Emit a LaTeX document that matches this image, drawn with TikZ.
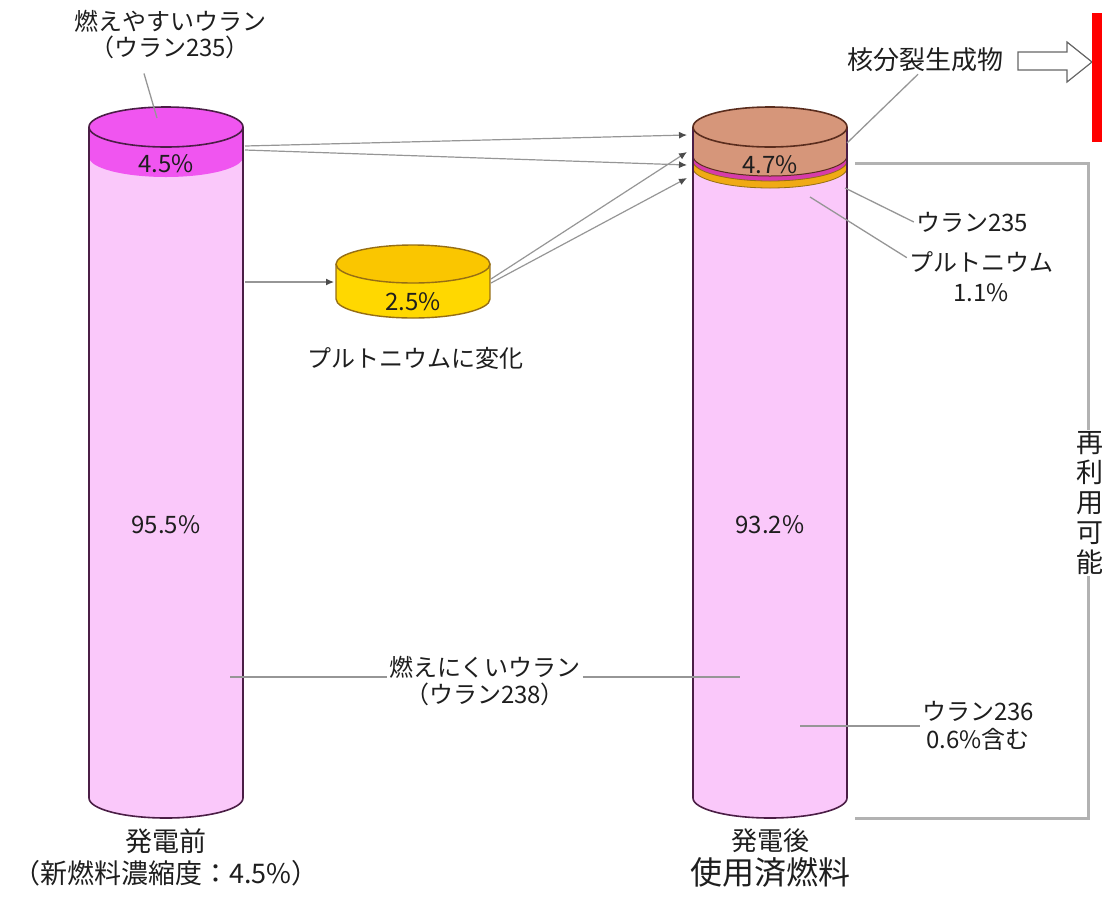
\documentclass[tikz,border=0pt]{standalone}
\usepackage{fontspec}
\setmainfont{Noto Sans CJK JP}
\usepackage{xcolor}
\usepackage{tikz}
\usetikzlibrary{arrows.meta}
\definecolor{uranpink}{RGB}{250,200,250}
\definecolor{uranmag}{RGB}{240,85,240}
\definecolor{rimdark}{RGB}{75,30,70}
\definecolor{fisbrown}{RGB}{214,150,122}
\definecolor{fisrim}{RGB}{90,45,30}
\definecolor{plyellow}{RGB}{255,216,0}
\definecolor{pltop}{RGB}{250,198,0}
\definecolor{plrim}{RGB}{150,110,20}
\definecolor{plorange}{RGB}{240,170,20}
\definecolor{bandmag}{RGB}{215,60,170}
\definecolor{leadgray}{RGB}{150,150,150}
\definecolor{txtdark}{RGB}{30,30,30}

\begin{document}
\begin{tikzpicture}[x=1pt, y=-1pt, font=\fontsize{24}{28}\selectfont, text=txtdark,
  lbl/.style={align=center, inner sep=2pt},
  pct/.style={inner sep=0pt},
  lead/.style={draw=leadgray, line width=1.3pt},
  arr/.style={draw=leadgray, line width=1.2pt, -{Latex[length=8pt,width=7pt,color=black!70]}},
  rim/.style={draw=rimdark, line width=1.6pt}]
  \useasboundingbox (0,0) rectangle (1102,903);
  \clip (0,0) rectangle (1102,903);

  % fuel before burning
  \fill[uranpink] (89,127) rectangle (243,798);
  \fill[uranpink] (166,798) ellipse (77 and 20);
  \fill[uranmag] (89,127) -- (89,157) arc (180:0:77 and 20) -- (243,127) -- cycle;
  \draw[rim] (89,127) -- (89,798) arc (180:0:77 and 20) -- (243,127);
  \draw[rim, fill=uranmag] (166,127) ellipse (77 and 20);

  % spent fuel
  \fill[uranpink] (693,127) rectangle (847,798);
  \fill[uranpink] (770,798) ellipse (77 and 20);
  \fill[plorange] (693,127) -- (693,168) arc (180:0:77 and 20) -- (847,127) -- cycle;
  \fill[bandmag] (693,127) -- (693,161) arc (180:0:77 and 20) -- (847,127) -- cycle;
  \fill[fisbrown] (693,127) -- (693,156) arc (180:0:77 and 20) -- (847,127) -- cycle;
  \draw[draw=fisrim, line width=1pt] (693,156) arc (180:0:77 and 20);
  \draw[draw=plrim, line width=0.8pt] (693,161) arc (180:0:77 and 20);
  \draw[draw=plrim, line width=0.8pt] (693,168) arc (180:0:77 and 20);
  \draw[rim] (693,127) -- (693,798) arc (180:0:77 and 20) -- (847,127);
  \draw[draw=fisrim, line width=1.6pt, fill=fisbrown] (770,127) ellipse (77 and 20);

  % plutonium disc
  \fill[plyellow] (336,264) rectangle (490,299);
  \fill[plyellow] (413,299) ellipse (77 and 19);
  \draw[draw=plrim, line width=1.4pt] (336,264) -- (336,299) arc (180:0:77 and 19) -- (490,264);
  \draw[draw=plrim, line width=1.4pt, fill=pltop] (413,264) ellipse (77 and 19);

  \node[pct] (p45) at (166,164) {4.5\%};
  \node[pct] (p955) at (166,525) {95.5\%};
  \node[pct] (p47) at (770,165) {4.7\%};
  \node[pct] (p932) at (770,525) {93.2\%};
  \node[pct] (p25) at (413,302) {2.5\%};

  % points on the cylinders
  \coordinate (preA) at (245,146);
  \coordinate (preB) at (245,150);
  \coordinate (preC) at (245,282);
  \coordinate (preD) at (230,677);
  \coordinate (preTop) at (157,118);
  \coordinate (plL) at (334,282);
  \coordinate (plA) at (491,279);
  \coordinate (plB) at (491,283);
  \coordinate (postA) at (687,135);
  \coordinate (postB) at (687,152);
  \coordinate (postC) at (687,165);
  \coordinate (postD) at (687,178);
  \coordinate (postE) at (740,677);
  \coordinate (postF) at (800,726);
  \coordinate (postFis) at (847,143);
  \coordinate (postU) at (845,188);
  \coordinate (postPu) at (810,197);

  \draw[arr] (preA) -- (postA);
  \draw[arr] (preB) -- (postC);
  \draw[arr] (plA) -- (postB);
  \draw[arr] (plB) -- (postD);
  \draw[arr] (preC) -- (plL);

  % labels
  \node[lbl, font=\fontsize{24}{26}\selectfont] (easy) at (170,35) {燃えやすいウラン\\（ウラン235）};
  \node[lbl] (toPu) at (415,358) {プルトニウムに変化};
  \node[lbl, font=\fontsize{26}{28}\selectfont] (fis) at (925,60) {核分裂生成物};
  \node[lbl] (u235) at (972,222) {ウラン235};
  \node[lbl, font=\fontsize{24}{30}\selectfont] (pu) at (981,277) {プルトニウム\\1.1\%};
  \node[lbl, font=\fontsize{24}{27}\selectfont] (hard) at (485,681) {燃えにくいウラン\\（ウラン238）};
  \node[lbl] (u236) at (978,726) {ウラン236\\0.6\%含む};
  \node[lbl, font=\fontsize{27}{32}\selectfont] (before) at (166,857) {発電前\\（新燃料濃縮度：4.5\%）};
  \node[lbl, font=\fontsize{26}{34}\selectfont] (after) at (770,858) {発電後\\{\fontsize{32}{34}\selectfont 使用済燃料}};

  \draw[lead] ([xshift=-26pt,yshift=-12pt]easy.south) -- (preTop);
  \draw[lead] ([xshift=-7pt]fis.south) -- (postFis);
  \draw[lead] (postU) -- (u235.west);
  \draw[lead] (postPu) -- ([yshift=-8pt]pu.north west);
  \draw[lead] (preD) -- (preD -| hard.west);
  \draw[lead] (hard.east |- postE) -- (postE);
  \draw[lead] (postF) -- (postF -| u236.west);

  % to disposal
  \draw[draw=black!60, line width=1.2pt, fill=white]
    (1018,52) -- (1067,52) -- (1067,42) -- (1092,62) -- (1067,82) -- (1067,70) -- (1018,70) -- cycle;
  \fill[red] (1092,13) rectangle (1102,142);

  % reusable part
  \draw[draw=gray!60, line width=3pt] (855,163) -- (1088,163) -- (1088,818) -- (855,818);
  \node[lbl, fill=white, inner sep=1pt, font=\fontsize{27}{30}\selectfont] (reuse) at (1090,503) {再\\利\\用\\可\\能};
\end{tikzpicture}
\end{document}
